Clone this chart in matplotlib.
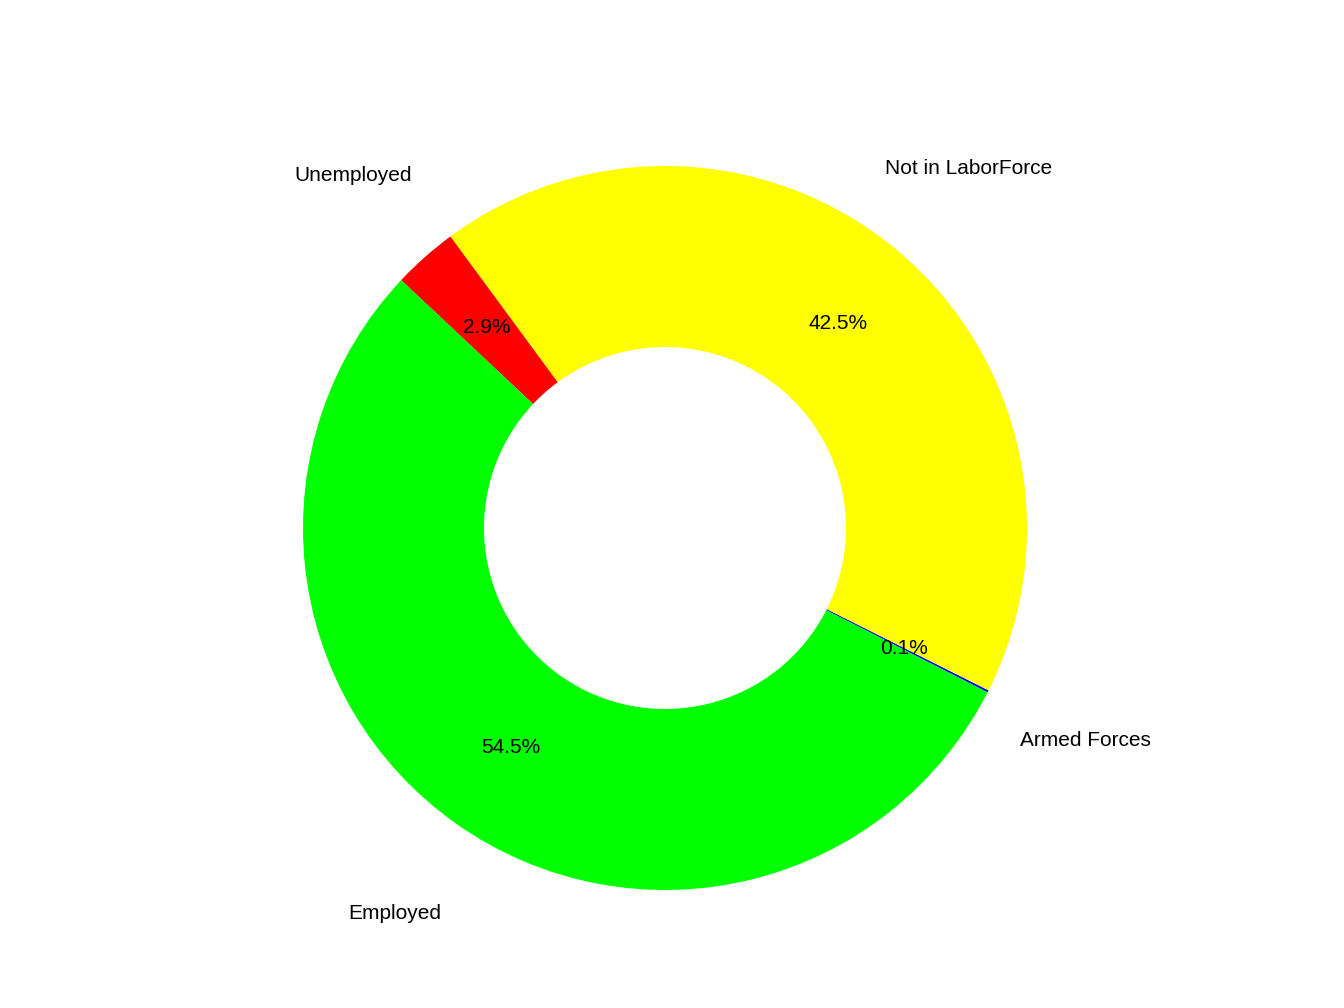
import matplotlib
matplotlib.use("Agg")
import matplotlib.pyplot as plt

labels = ["Armed Forces", "Not in LaborForce", "Unemployed", "Employed"]
values = [0.1, 42.5, 2.9, 54.5]
colors = ["#0000ff", "#ffff00", "#ff0000", "#00ff00"]

plt.rcParams["font.family"] = "Liberation Sans"
fig = plt.figure(figsize=(13.44, 10.08), dpi=100)
cx, cy, r = 665, 528, 362
ax = fig.add_axes([(cx - r) / 1344, (1008 - cy - r) / 1008, 2 * r / 1344, 2 * r / 1008])
wedges, texts, autotexts = ax.pie(values, labels=labels, colors=colors, startangle=-27,
                                  counterclock=True, autopct="%1.1f%%", pctdistance=0.74,
                                  labeldistance=1.3, radius=1,
                                  wedgeprops=dict(width=0.5, linewidth=0),
                                  textprops=dict(fontsize=15))
for t in texts:
    t.set_ha("center")
ax.set_xlim(-1, 1)
ax.set_ylim(-1, 1)
ax.set_aspect("equal")
ax.axis("off")
fig.savefig("out.png", dpi=100)
